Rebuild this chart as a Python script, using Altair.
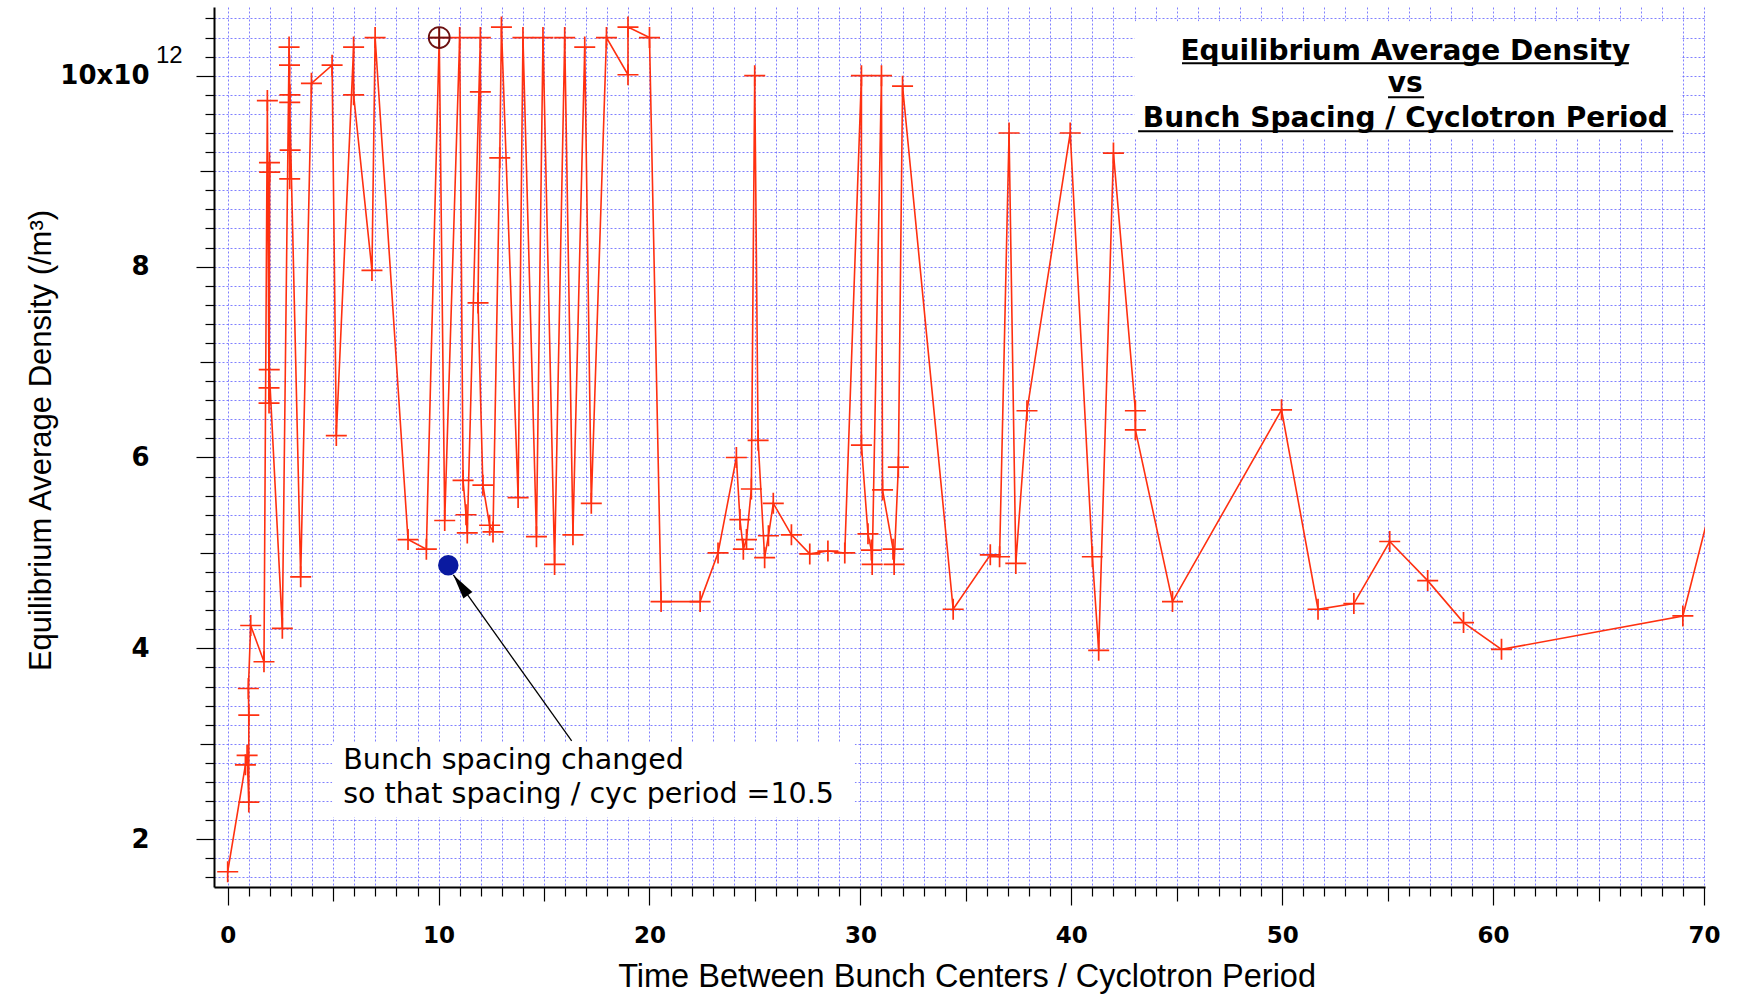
import altair as alt
import pandas as pd

# ---------------- data (x: bunch spacing / cyclotron period, y: density in 1e12 /m^3) -------------
spacing = [0.00, 0.84, 0.92, 1.00, 1.00, 0.98, 1.09, 1.72, 1.88, 1.96,
           1.98, 1.96, 1.99, 1.97, 2.59, 2.91, 2.94, 2.93, 2.96, 2.95,
           2.94, 3.46, 3.97, 4.95, 5.15, 5.97, 5.97, 6.84, 6.99, 8.55,
           9.42, 10.03, 10.29, 11.00, 11.16, 11.30, 11.36, 11.98, 11.98, 11.87,
           12.10, 12.42, 12.58, 12.90, 12.98, 13.77, 14.00, 14.64, 14.95, 15.50,
           15.98, 16.37, 16.93, 17.24, 17.96, 18.98, 18.98, 20.00, 20.55, 22.40,
           23.25, 24.12, 24.29, 24.45, 24.60, 24.83, 24.99, 25.15, 25.46, 25.64,
           25.87, 26.73, 27.60, 28.46, 29.26, 30.05, 30.05, 30.36, 30.52, 30.56,
           31.00, 31.05, 31.55, 31.60, 31.80, 32.00, 34.40, 36.16, 36.60, 37.05,
           37.37, 37.90, 39.95, 41.00, 41.30, 42.00, 43.04, 43.04, 44.80, 49.97,
           51.70, 53.40, 55.10, 56.90, 58.60, 60.40, 69.00, 70.80]
density = [1.66, 2.78, 2.88, 2.39, 3.30, 3.58, 4.24, 3.86, 9.74, 6.57,
           9.09, 6.73, 8.99, 6.92, 4.21, 10.30, 8.92, 10.11, 9.22, 9.80,
           9.72, 4.75, 9.92, 10.11, 6.23, 10.30, 9.80, 7.96, 10.40, 5.14,
           5.04, 10.40, 5.34, 10.40, 5.76, 5.40, 5.21, 10.40, 9.83, 7.62,
           5.71, 5.29, 5.22, 9.14, 10.51, 5.58, 10.40, 5.17, 10.40, 4.88,
           10.40, 5.19, 10.30, 5.52, 10.40, 10.01, 10.51, 10.40, 4.49, 4.49,
           5.00, 6.00, 5.35, 5.04, 5.14, 5.67, 10.00, 6.18, 4.95, 5.18,
           5.52, 5.19, 4.99, 5.02, 5.00, 10.00, 6.13, 5.20, 5.03, 4.88,
           10.00, 5.66, 5.04, 4.88, 5.90, 9.89, 4.41, 4.98, 4.96, 9.40,
           4.89, 6.49, 9.40, 4.96, 3.98, 9.19, 6.49, 6.29, 4.49, 6.50,
           4.41, 4.47, 5.12, 4.71, 4.27, 3.99, 4.34, 5.90]

# axis ticks
x_ticks = list(range(0, 71))
y_ticks = [round(1.6 + 0.2 * k, 1) for k in range(46)]

# annotations
title_lines = ["Equilibrium Average Density", "vs", "Bunch Spacing / Cyclotron Period"]
title_x = [55.84, 55.84, 55.84]
title_y = [10.162, 9.832, 9.465]
underline_x1 = [45.25, 55.02, 43.17]
underline_x2 = [66.44, 56.73, 68.54]
underline_y = [10.131, 9.775, 9.419]

note_lines = ["Bunch spacing changed", "so that spacing / cyc period =10.5"]
note_x = [5.48, 5.48]
note_y = [2.74, 2.38]

box_x1 = [43.0, 4.95]
box_x2 = [68.9, 29.74]
box_y1 = [9.34, 2.23]
box_y2 = [10.57, 3.01]

exp_label = ["12"]
exp_x = [-3.40]
exp_y = [10.13]

highlight_x = [10.46]
highlight_y = [4.87]
marked_x = [10.03]
marked_y = [10.40]
arrow_tail = (16.31, 3.03)
arrow_head = (10.70, 4.77)

X_DOMAIN = [-0.65, 70.05]
Y_DOMAIN = [1.5, 10.72]
W, H = 1491, 880
LEFT, TOP = 214, 7

RED = "#ff3010"

# ---------------- scales / axes ----------------
xs = alt.Scale(domain=X_DOMAIN, nice=False, zero=False)
ys = alt.Scale(domain=Y_DOMAIN, nice=False, zero=False)

grid_kw = dict(grid=True, gridColor="#6a6aff", gridDash=[2, 2], gridWidth=1, gridOpacity=0.85)

x_axis = alt.Axis(
    values=x_ticks, format="d",
    labelExpr="datum.value % 10 === 0 ? datum.label : ''",
    labelOverlap=False, labelFlush=False,
    labelFont="DejaVu Sans", labelFontSize=23, labelFontWeight="bold", labelColor="black",
    labelPadding=19,
    tickColor="black", tickWidth=1.2,
    tickSize={"condition": [{"test": "datum.value % 10 === 0", "value": 18},
                            {"test": "datum.value % 5 === 0", "value": 14}],
              "value": 9},
    domainColor="black", domainWidth=2,
    title="Time Between Bunch Centers / Cyclotron Period",
    titleFont="Liberation Sans", titleFontSize=32.5, titleFontWeight="normal", titleColor="black",
    titleX=752.6, titleY=89, titleBaseline="middle",
    **grid_kw,
)

even_test = "abs(datum.value - round(datum.value)) < 0.001 && round(datum.value) % 2 === 0"
int_test = "abs(datum.value - round(datum.value)) < 0.001"
y_axis = alt.Axis(
    values=y_ticks,
    labelExpr="(" + even_test + ") ? (round(datum.value) === 10 ? '10x10' : '' + round(datum.value)) : ''",
    labelOverlap=False, labelFlush=False,
    labelFont="DejaVu Sans", labelFontSize=26, labelFontWeight="bold", labelColor="black",
    labelPadding=47,
    tickColor="black", tickWidth=1.2,
    tickSize={"condition": [{"test": even_test, "value": 18},
                            {"test": int_test, "value": 14}],
              "value": 9},
    domainColor="black", domainWidth=2,
    title="Equilibrium Average Density (/m\u00b3)",
    titleFont="Liberation Sans", titleFontSize=31, titleFontWeight="normal", titleColor="black",
    titleX=-173, titleY=433, titleBaseline="middle",
    **grid_kw,
)

X = lambda f="x": alt.X(f"{f}:Q", scale=xs, axis=x_axis)
Y = lambda f="y": alt.Y(f"{f}:Q", scale=ys, axis=y_axis)

# ---------------- layers ----------------
df = pd.DataFrame({"i": range(len(spacing)), "x": spacing, "y": density})

boxes = alt.Chart(pd.DataFrame({"x": box_x1, "x2": box_x2, "y": box_y1, "y2": box_y2})).mark_rect(
    color="white", opacity=1
).encode(x=X(), x2="x2:Q", y=Y(), y2="y2:Q")

line = alt.Chart(df).mark_line(color=RED, strokeWidth=1.6, clip=True).encode(
    x=X(), y=Y(), order="i:Q")

crosses = alt.Chart(df).mark_point(
    shape="M-1,0L1,0M0,-1L0,1", size=441, filled=False, color=RED, strokeWidth=1.7,
    opacity=1, clip=True
).encode(x=X(), y=Y())

circled = alt.Chart(pd.DataFrame({"x": marked_x, "y": marked_y})).mark_point(
    shape="M-1,0A1,1,0,1,1,1,0A1,1,0,1,1,-1,0ZM-1,0L1,0M0,-1L0,1",
    size=441, filled=False, color="#6b1010", strokeWidth=1.8, opacity=1
).encode(x=X(), y=Y())

blue = alt.Chart(pd.DataFrame({"x": highlight_x, "y": highlight_y})).mark_point(
    shape="circle", size=420, filled=True, color="#0a1aa0", opacity=1
).encode(x=X(), y=Y())

arrow_df = pd.DataFrame({"x": [arrow_tail[0]], "y": [arrow_tail[1]],
                         "x2": [arrow_head[0]], "y2": [arrow_head[1]]})
arrow_line = alt.Chart(arrow_df).mark_rule(color="black", strokeWidth=1.3).encode(
    x=X(), y=Y(), x2="x2:Q", y2="y2:Q")
arrow_tip = alt.Chart(pd.DataFrame({"x": [arrow_head[0]], "y": [arrow_head[1]]})).mark_point(
    shape="M0,0L-0.55,2.5L0.55,2.5Z", size=400, filled=True, color="black", opacity=1,
    angle=324.5
).encode(x=X(), y=Y())

title_txt = alt.Chart(pd.DataFrame({"x": title_x, "y": title_y, "t": title_lines})).mark_text(
    align="center", baseline="alphabetic", font="DejaVu Sans", fontSize=28, fontWeight="bold",
    color="black"
).encode(x=X(), y=Y(), text="t:N")

underline = alt.Chart(pd.DataFrame({"x": underline_x1, "x2": underline_x2, "y": underline_y})).mark_rule(
    color="black", strokeWidth=2
).encode(x=X(), x2="x2:Q", y=Y())

note_txt = alt.Chart(pd.DataFrame({"x": note_x, "y": note_y, "t": note_lines})).mark_text(
    align="left", baseline="alphabetic", font="DejaVu Sans", fontSize=28.5, color="black"
).encode(x=X(), y=Y(), text="t:N")

exp_txt = alt.Chart(pd.DataFrame({"x": exp_x, "y": exp_y, "t": exp_label})).mark_text(
    align="left", baseline="alphabetic", font="Liberation Sans", fontSize=24, color="black"
).encode(x=X(), y=Y(), text="t:N")

chart = alt.layer(
    boxes, line, crosses, circled, blue, arrow_line, arrow_tip, title_txt, underline, note_txt,
    exp_txt
).properties(
    width=W, height=H,
    padding={"left": LEFT, "top": TOP, "right": 1737 - LEFT - W, "bottom": 996 - TOP - H},
    autosize=alt.AutoSizeParams(type="none"),
    background="white",
).configure_view(stroke="transparent")

chart.save("out.html", embed_options={"renderer": "svg", "actions": False})
